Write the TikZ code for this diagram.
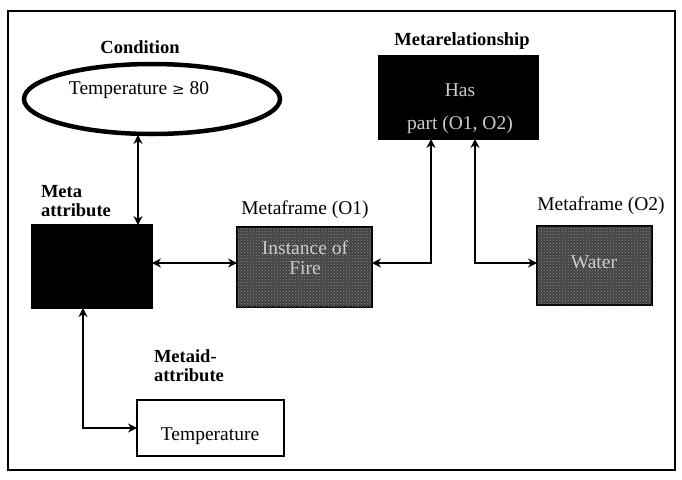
\documentclass[tikz,border=0pt]{standalone}
\usepackage{fontspec}
\setmainfont{Liberation Serif}
\usetikzlibrary{arrows.meta,shapes.geometric,patterns}
\begin{document}
\begin{tikzpicture}[x=1pt,y=-1pt,
  every node/.style={inner sep=0pt,outer sep=0pt},
  lbl/.style={font=\fontsize{18.5}{22}\selectfont\bfseries},
  lblr/.style={font=\fontsize{19.5}{22}\selectfont},
  txt/.style={font=\fontsize{19.5}{22}\selectfont},
  conn/.style={line width=1.8pt,{Stealth[length=9pt,width=9pt]}-{Stealth[length=9pt,width=9pt]}},
  darkbox/.style={draw=black,line width=1.5pt,fill=black},
  graybox/.style={draw=black,line width=1.8pt,fill=black!74,
     postaction={pattern=crosshatch dots,pattern color=black!45}},
  whitebox/.style={draw=black,line width=1.8pt,fill=white}]
\useasboundingbox (0,0) rectangle (682,479);
\fill[white] (0,0) rectangle (682,479);
\draw[line width=1.5pt] (8,11) rectangle (675,470);
% Condition
\node[lbl] (condlbl) at (140,47) {Condition};
\node[draw=black,line width=4.5pt,ellipse,minimum width=256pt,minimum height=70pt] (cond) at (152,99) {};
\node[txt] (condtxt) at (139,90) {Temperature \fontspec{DejaVu Serif}\fontsize{15}{18}\selectfont≥\fontspec{Liberation Serif}\fontsize{19.5}{22}\selectfont{} 80};
% Metarelationship
\node[lbl] (rellbl) at (462,41) {Metarelationship};
\path[darkbox] (379,56) rectangle (538,139);
\node[minimum width=159pt,minimum height=83pt] (rel) at (458.5,97.5) {};
\node[txt,text=white!80!black] (has1) at (460,90) {Has};
\node[txt,text=white!80!black] (has2) at (460,125) {part (O1, O2)};
% Meta attribute
\node[lbl,align=left,anchor=west] (malbl) at (41,201) {Meta\\[-3pt]attribute};
\node[darkbox,minimum width=120pt,minimum height=83pt] (meta) at (92,266.5) {};
% Metaframe O1
\node[lblr] (o1lbl) at (305,210) {Metaframe (O1)};
\node[graybox,minimum width=135pt,minimum height=80pt] (o1) at (304.5,267) {};
\node[txt,text=white!80!black,align=center] (o1txt) at (305,258) {Instance of\\[-2pt]Fire};
% Metaframe O2
\node[lblr] (o2lbl) at (601,206) {Metaframe (O2)};
\node[graybox,minimum width=115pt,minimum height=79pt] (o2) at (594.5,265.5) {};
\node[txt,text=white!80!black] (o2txt) at (594,262) {Water};
% Metaid-attribute
\node[lbl,align=left,anchor=west] (mialbl) at (154,366) {Metaid-\\[-3pt]attribute};
\node[whitebox,minimum width=147pt,minimum height=56pt] (temp) at (210.5,428) {};
\node[txt] (temptxt) at (210,436) {Temperature};
% coordinates
\coordinate (c1) at (138,225);
\coordinate (c2) at (138,135);
\coordinate (r1) at (431,139);
\coordinate (r2) at (475,139);
\coordinate (t1) at (83,308);
% connectors
\draw[conn] (c2) -- (c1);
\draw[conn] (meta.east |- 0,263) -- (o1.west |- 0,263);
\draw[conn] (o1.east |- 0,263) -| (r1);
\draw[conn] (r2) |- (o2.west |- 0,263);
\draw[conn] (t1) |- (temp.west |- 0,428);
\end{tikzpicture}
\end{document}
